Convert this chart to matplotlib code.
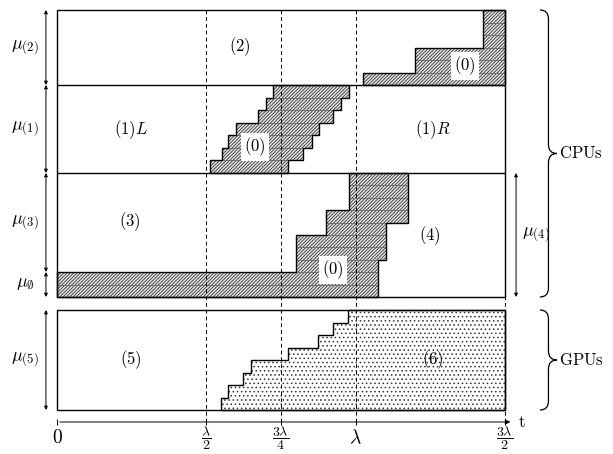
import matplotlib
matplotlib.use('Agg')
import matplotlib.pyplot as plt
from matplotlib.path import Path
from matplotlib.patches import PathPatch, Rectangle

plt.rcParams['mathtext.fontset'] = 'cm'
plt.rcParams['font.family'] = ['cmr10', 'DejaVu Serif']
plt.rcParams['hatch.linewidth'] = 0.6
plt.rcParams['axes.unicode_minus'] = False

# time axis (units of lambda)
tick_pos = [0, 0.5, 0.75, 1.0, 1.5]
tick_labels = [r'$0$', r'$\dfrac{\lambda}{2}$', r'$\dfrac{3\lambda}{4}$', r'$\lambda$', r'$\dfrac{3\lambda}{2}$']
tick_sizes = [14, 10, 10, 14, 10]
tick_y = [-28, -28, -28, -28, -28]
t_end = 1.5

# processor heights (bottom to top)
mu5 = 100       # GPUs
gap = 13
mu_empty = 25
mu3 = 99
mu1 = 88
mu2 = 75

gpu_bot = 0
gpu_top = gpu_bot + mu5
cpu_bot = gpu_top + gap
empty_top = cpu_bot + mu_empty
b3_top = empty_top + mu3
b1_top = b3_top + mu1
b2_top = b1_top + mu2

# stolen / idle staircases, row by row from top to bottom
zero1_left = [0.723, 0.700, 0.673, 0.599, 0.573, 0.553, 0.512]
zero1_right = [0.978, 0.951, 0.924, 0.877, 0.854, 0.824, 0.773]

zero2_left = [1.426, 1.426, 1.426, 1.199, 1.199, 1.025]
zero2_right = [1.5] * 6

zero3_left = [0.978, 0.978, 0.978, 0.900, 0.900, 0.800, 0.800, 0.800, 0.0, 0.0]
zero3_right = [1.175, 1.175, 1.175, 1.175, 1.102, 1.102, 1.102, 1.075, 1.075, 1.075]

gpu_left = [0.974, 0.924, 0.874, 0.773, 0.650, 0.623, 0.573, 0.549]
gpu_right = [1.5] * 8

region_labels = ['(2)', '(1)L', '(1)R', '(3)', '(4)', '(5)', '(6)']
region_x = [0.613, 0.248, 1.259, 0.244, 1.249, 0.248, 1.259]
region_y = [363, 280, 280, 188, 174, 50, 50]

zero_x = [0.663, 1.366, 0.924]
zero_y = [263, 344, 140]

mu_labels = [r'$\mu_{(2)}$', r'$\mu_{(1)}$', r'$\mu_{(3)}$', r'$\mu_{\emptyset}$', r'$\mu_{(5)}$']
mu_lo = [b1_top, b3_top, empty_top, cpu_bot, gpu_bot]
mu_hi = [b2_top, b1_top, b3_top, empty_top, gpu_top]

fig = plt.figure(figsize=(6.13, 4.54), dpi=100)
ax = fig.add_axes([0, 0, 1, 1])
ax.set_xlim(-57 / 298.67, 556 / 298.67)
ax.set_ylim(-44, 410)
ax.axis('off')


def row_edges(top, bot, n):
    h = (top - bot) / n
    return [top - i * h for i in range(n + 1)]


def staircase(lefts, rights, top, bot, hatch, face):
    ys = row_edges(top, bot, len(lefts))
    xs_poly, ys_poly = [], []
    for i in range(len(rights)):
        xs_poly += [rights[i], rights[i]]
        ys_poly += [ys[i], ys[i + 1]]
    for i in reversed(range(len(lefts))):
        xs_poly += [lefts[i], lefts[i]]
        ys_poly += [ys[i + 1], ys[i]]
    ax.fill(xs_poly, ys_poly, facecolor=face, hatch=hatch, edgecolor='0.2', lw=0, zorder=1)
    if hatch.startswith('/'):
        for i in range(len(lefts) - 1):
            x0 = max(lefts[i], lefts[i + 1])
            x1 = min(rights[i], rights[i + 1])
            ax.plot([x0, x1], [ys[i + 1], ys[i + 1]], color='0.4', lw=0.6, zorder=2)
    ax.fill(xs_poly, ys_poly, facecolor='none', edgecolor='k', lw=1.0, zorder=3)


staircase(zero1_left, zero1_right, b1_top, b3_top, '//////////', '0.9')
staircase(zero2_left, zero2_right, b2_top, b1_top, '//////////', '0.9')
staircase(zero3_left, zero3_right, b3_top, cpu_bot, '//////////', '0.9')
staircase(gpu_left, gpu_right, gpu_top, gpu_bot, '....', 'white')

# boxes
ax.add_patch(Rectangle((0, cpu_bot), t_end, b2_top - cpu_bot, fill=False, lw=1.0, zorder=4))
ax.add_patch(Rectangle((0, gpu_bot), t_end, gpu_top - gpu_bot, fill=False, lw=1.0, zorder=4))
ax.hlines([b1_top, b3_top], 0, t_end, colors='k', lw=1.0, zorder=4)

# dashed time marks
ax.vlines(tick_pos[1:], -12, b2_top, colors='k', lw=0.7, linestyles=(0, (4, 3)), zorder=5)

# time axis
ax.annotate('', xy=(1.527, -12), xytext=(0, -12),
            arrowprops=dict(arrowstyle='-|>', lw=0.7, color='k', mutation_scale=7))
ax.vlines(tick_pos, -15, -9, colors='k', lw=0.7)
ax.text(1.545, -12, r'$\mathrm{t}$', fontsize=12, ha='left', va='center')
for p, lab, fs, ty in zip(tick_pos, tick_labels, tick_sizes, tick_y):
    ax.text(p, ty, lab, fontsize=fs, ha='center', va='center')

# region labels
for x, y, lab in zip(region_x, region_y, region_labels):
    ax.text(x, y, '$' + lab + '$', fontsize=12, ha='center', va='center', zorder=6)
for x, y in zip(zero_x, zero_y):
    ax.text(x, y, r'$(0)$', fontsize=12, ha='center', va='center', zorder=6,
            bbox=dict(facecolor='white', edgecolor='none', pad=2))

# mu arrows on the left
for lab, lo, hi in zip(mu_labels, mu_lo, mu_hi):
    ax.annotate('', xy=(-0.037, hi), xytext=(-0.037, lo),
                arrowprops=dict(arrowstyle='<|-|>', lw=0.7, color='k', mutation_scale=5,
                                shrinkA=0, shrinkB=0))
    ax.text(-0.107, (lo + hi) / 2, lab, fontsize=13, ha='center', va='center')

# mu_(4) on the right
ax.annotate('', xy=(1.537, b3_top), xytext=(1.537, cpu_bot),
            arrowprops=dict(arrowstyle='<|-|>', lw=0.7, color='k', mutation_scale=5,
                            shrinkA=0, shrinkB=0))
ax.text(1.604, (b3_top + cpu_bot) / 2, r'$\mu_{(4)}$', fontsize=13, ha='center', va='center')


def brace(x0, w, top, bot, r=9):
    xm = x0 + w / 2
    ym = (top + bot) / 2
    verts = [(x0, top), (xm, top), (xm, top - r), (xm, ym + r), (xm, ym), (x0 + w, ym),
             (xm, ym), (xm, ym - r), (xm, bot + r), (xm, bot), (x0, bot)]
    codes = [Path.MOVETO, Path.CURVE3, Path.CURVE3, Path.LINETO, Path.CURVE3, Path.CURVE3,
             Path.CURVE3, Path.CURVE3, Path.LINETO, Path.CURVE3, Path.CURVE3]
    ax.add_patch(PathPatch(Path(verts, codes), fill=False, lw=0.9, color='k'))


brace(1.617, 0.057, b2_top, cpu_bot)
brace(1.617, 0.057, gpu_top, gpu_bot)
ax.text(1.68, (b2_top + cpu_bot) / 2, r'$\mathrm{CPUs}$', fontsize=12, ha='left', va='center')
ax.text(1.68, (gpu_top + gpu_bot) / 2, r'$\mathrm{GPUs}$', fontsize=12, ha='left', va='center')

fig.savefig('out.png', dpi=100)
